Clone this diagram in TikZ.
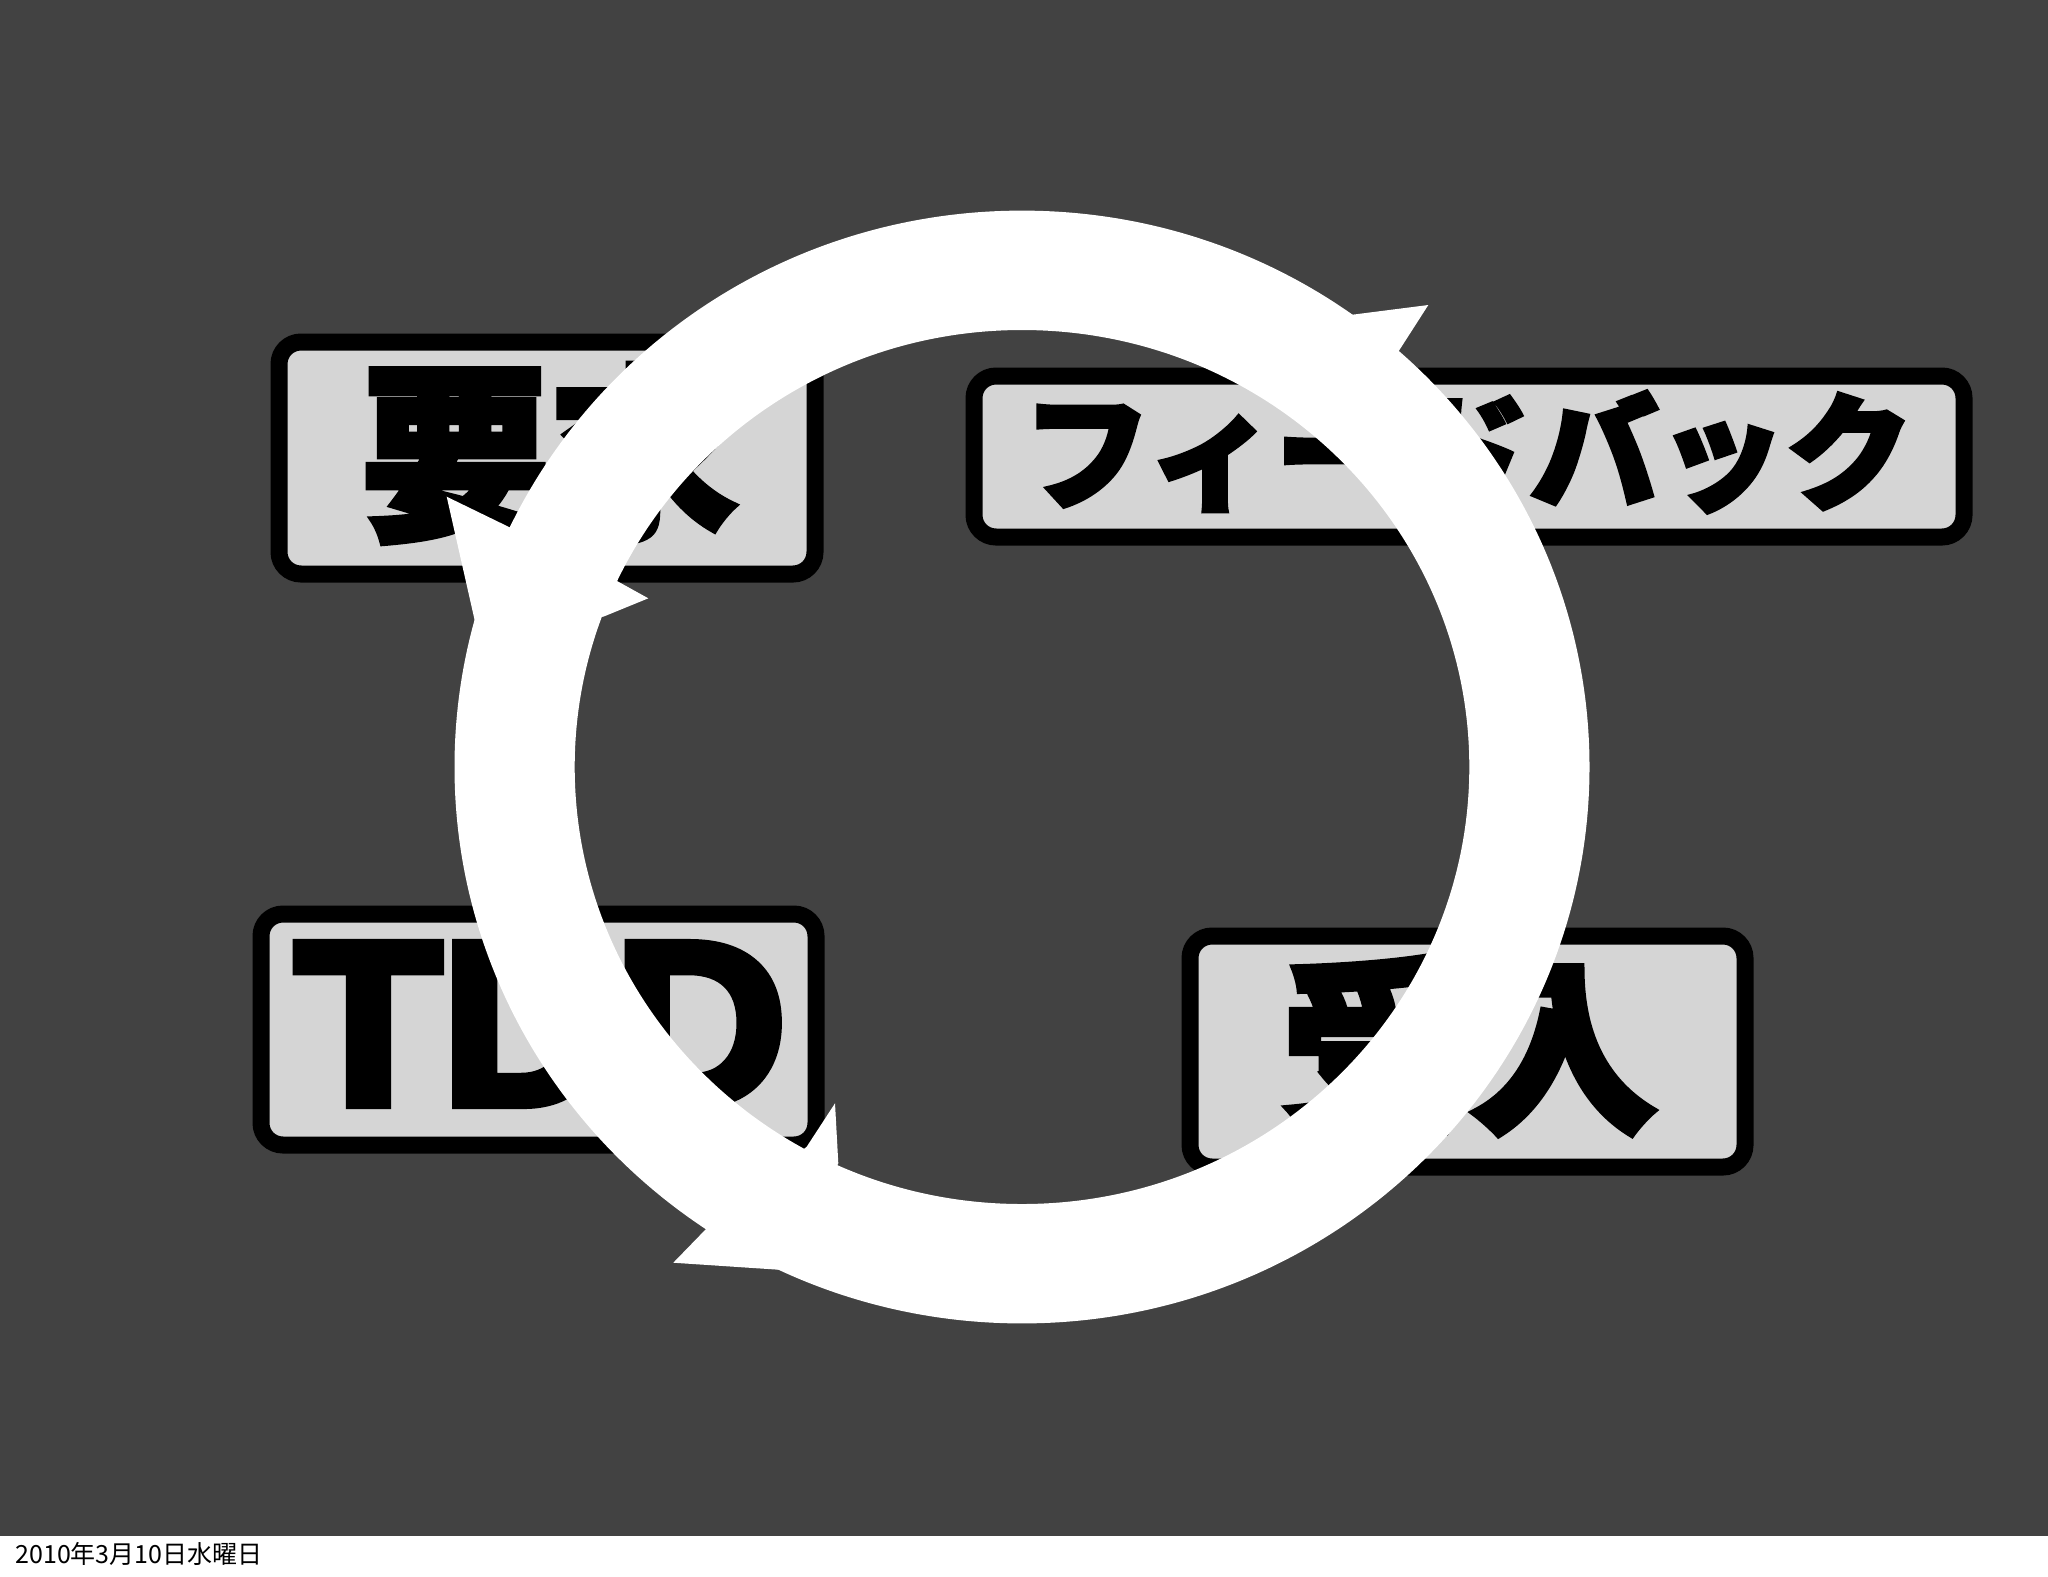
\documentclass[tikz,border=0pt]{standalone}
\usepackage{fontspec}
\newfontfamily\jp{Noto Sans CJK JP}
\newfontfamily\jpheavy{Noto Sans CJK JP}[FakeBold=3.5]
\newfontfamily\latheavy{Liberation Sans}[FakeBold=4.5]
\definecolor{bg}{HTML}{424242}
\definecolor{boxfill}{HTML}{D5D5D5}
\tikzset{
  panel/.style={draw=black, line width=8.5pt, fill=boxfill, rounded corners=11pt,
    rectangle, inner sep=0pt},
  bigjp/.style={inner sep=0pt, font=\jpheavy\bfseries\fontsize{94pt}{94pt}\selectfont},
  midjp/.style={inner sep=0pt, xscale=1.012, font=\jpheavy\bfseries\fontsize{63pt}{63pt}\selectfont},
  biglat/.style={inner sep=0pt, xscale=1.03, font=\latheavy\bfseries\fontsize{116pt}{116pt}\selectfont},
  ringfill/.style={fill=white, draw=none},
}
\begin{document}
\begin{tikzpicture}[x=0.5pt,y=-0.5pt]
\useasboundingbox (0,0) rectangle (2048,1576);
\fill[white] (0,0) rectangle (2048,1576);
\fill[bg] (0,0) rectangle (2048,1536);

% panels
\node[panel, minimum width=268pt, minimum height=116pt] (boxA) at (547,458) {};
\node[panel, minimum width=495pt, minimum height=80.5pt] (boxB) at (1469,456.5) {};
\node[panel, minimum width=277.5pt, minimum height=115.5pt] (boxC) at (538.5,1029.5) {};
\node[panel, minimum width=277.5pt, minimum height=115.5pt] (boxD) at (1467.5,1051.5) {};

% labels
\node[bigjp] (tA) at (549.5,452.5) {要求};
\node[midjp] (tB) at (1468,452) {フィードバック};
\node[biglat] (tC) at (541,1024) {TDD};
\node[bigjp] (tD) at (1469.5,1045) {受入};

% ring of three curved arrows
\coordinate (ringc) at (1022,767);
\fill[ringfill, even odd rule]
  (ringc) ellipse [x radius=283.75pt, y radius=278.2pt]
  (ringc) ellipse [x radius=223.65pt, y radius=218.5pt];

% arrow heads
\fill[ringfill] (1398.3,351.7) -- (1428.3,305) -- (1350,315) -- (1370,370) -- cycle;
\fill[ringfill] (511.7,528.3) -- (446.7,496.7) -- (475,621.7) -- (603.3,616.7)
  -- (648.3,598.3) -- (618.3,581.7) -- cycle;
\fill[ringfill] (706.7,1228.3) -- (673.3,1262.7) -- (783.3,1270) -- (838.3,1163.3)
  -- (835,1103.3) -- (806.7,1146.7) -- cycle;

% footer date
\node[anchor=base west, inner sep=0pt, font=\jp\fontsize{12.5pt}{12.5pt}\selectfont] (date)
  at (15,1563) {2010年3月10日水曜日};
\end{tikzpicture}
\end{document}
